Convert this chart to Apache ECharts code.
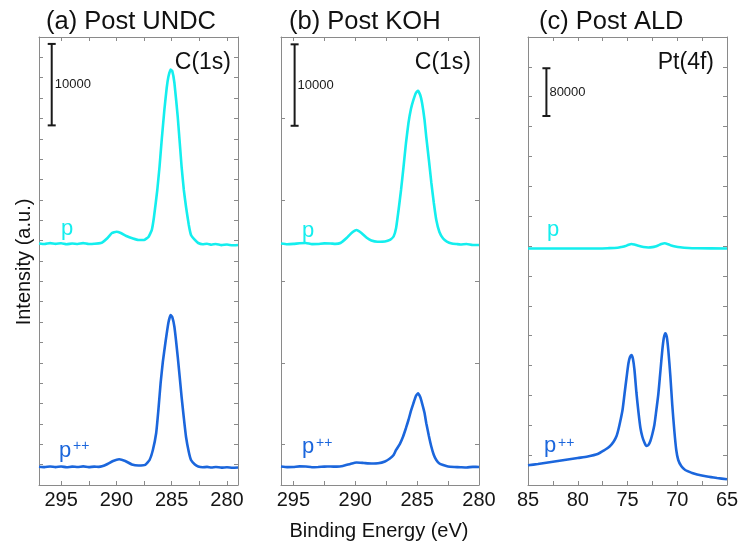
<!DOCTYPE html>
<html><head><meta charset="utf-8">
<script src="https://cdn.jsdelivr.net/npm/echarts@6/dist/echarts.min.js"></script>
<style>html,body{margin:0;padding:0;background:#fff}#c{width:741px;height:545px}</style>
</head><body><div id="c"></div>
<script>
const FONT = "'Liberation Sans', Arial, Helvetica, sans-serif";
const CYAN = '#14EEEE';
const BLUE = '#1B66DC';

// ---- text ----
const panelTitles = ['(a) Post UNDC', '(b) Post KOH', '(c) Post ALD'];
const peakLabels = ['C(1s)', 'C(1s)', 'Pt(4f)'];
const xAxisTitle = 'Binding Energy (eV)';
const yAxisTitle = 'Intensity (a.u.)';

// ---- ticks ----
const xTicksAB = [280, 282.5, 285, 287.5, 290, 292.5, 295];
const xLabelsAB = [280, 285, 290, 295];
const yTicksB = [5000, 15000, 25000, 35000, 45000];

// ---- scale bars [x, yLow, yHigh] and their labels ----
const barA = [[295.85, 44150, 54150]];
const barB = [[294.9, 44100, 54100]];
const barC = [[83.15, 617700, 697700]];
const barLabels = ['10000', '10000', '80000'];

// ---- panel (a) Post UNDC, C(1s): [binding energy eV, counts] ----
const aP = [[297,29650],[296.5,29580],[296,29700],[295.5,29600],[295,29680],[294.5,29560],[294,29640],[293.5,29590],[293,29700],[292.5,29580],[292,29620],[291.6,29660],[291.3,29760],[290.8,30320],[290.4,30940],[290.0,31100],[289.6,30940],[289.1,30570],[288.5,30260],[288.0,30080],[287.5,30080],[287.1,30450],[286.8,31300],[286.6,32900],[286.3,36220],[286.1,39040],[285.9,42360],[285.66,46040],[285.45,48740],[285.3,50090],[285.1,51010],[284.95,50830],[284.75,49350],[284.45,45180],[284.1,39040],[283.9,36220],[283.7,34130],[283.45,31920],[283.25,30690],[282.9,30080],[282.6,29710],[282.2,29560],[281.8,29620],[281.4,29500],[281,29590],[280.5,29450],[280,29520],[279.5,29430],[279,29470]];
const aPP = [[297,2250],[296.5,2190],[296,2280],[295.5,2200],[295,2270],[294.5,2180],[294,2260],[293.5,2210],[293,2290],[292.5,2200],[292,2250],[291.6,2230],[291.3,2290],[290.8,2580],[290.3,2950],[289.75,3160],[289.2,2950],[288.6,2520],[288.0,2390],[287.4,2460],[287.0,3070],[286.7,4300],[286.4,6380],[286.2,9210],[286.0,12520],[285.8,15100],[285.57,17430],[285.3,19890],[285.1,20870],[284.95,20630],[284.75,19400],[284.45,15720],[284.1,10800],[283.9,8230],[283.7,5890],[283.45,4050],[283.25,3070],[282.9,2520],[282.6,2270],[282.2,2180],[281.8,2220],[281.4,2140],[281,2210],[280.5,2130],[280,2170],[279.5,2120],[279,2150]];

// ---- panel (b) Post KOH, C(1s) ----
const bP = [[296,29650],[295.5,29560],[295,29600],[294.5,29680],[294,29710],[293.5,29570],[293,29590],[292.5,29660],[292,29650],[291.6,29600],[291.2,29710],[290.7,30320],[290.3,30940],[289.9,31310],[289.5,30940],[289.1,30390],[288.7,30020],[288.2,29870],[287.6,29890],[287.2,30080],[286.9,30510],[286.7,31550],[286.5,33760],[286.3,36220],[286.1,39040],[285.9,41990],[285.7,44440],[285.5,46160],[285.3,47270],[285.1,48130],[284.93,48410],[284.75,47880],[284.6,46900],[284.4,44810],[284.26,42720],[284.05,39900],[283.85,37080],[283.65,34620],[283.45,32530],[283.2,31060],[282.9,30260],[282.6,29890],[282.2,29650],[281.8,29580],[281.5,29530],[281,29590],[280.5,29470],[280,29470]];
const bPP = [[296,2270],[295.5,2200],[295,2210],[294.5,2290],[294,2270],[293.5,2180],[293,2210],[292.5,2260],[292,2270],[291.5,2250],[291,2330],[290.4,2580],[289.9,2760],[289.3,2700],[288.7,2640],[288.15,2660],[287.6,2890],[287.2,3250],[286.9,3680],[286.7,4300],[286.4,5030],[286.14,5930],[285.9,7000],[285.7,7980],[285.5,9090],[285.3,10030],[285.1,10930],[284.93,11260],[284.75,10800],[284.6,10030],[284.4,8840],[284.26,7580],[284.05,6020],[283.85,4700],[283.65,3680],[283.45,3070],[283.2,2640],[282.9,2460],[282.5,2270],[282,2210],[281.5,2180],[281,2150],[280.5,2230],[280,2210]];

// ---- panel (c) Post ALD, Pt(4f) ----
const cP = [[85,395900],[82,395900],[80,395900],[78,396000],[77,396400],[76,397100],[75.6,398400],[75.2,400100],[74.9,402200],[74.6,403500],[74.3,402500],[74.0,400900],[73.4,398400],[72.9,397600],[72.5,398200],[72.2,399300],[71.9,401200],[71.6,403300],[71.27,404600],[70.9,403000],[70.6,400900],[70.2,399300],[69.7,397900],[69.3,397300],[68,396300],[65,395900]];
const cPP = [[85,32980],[84,35160],[83,37670],[82,40180],[81,42690],[80,45200],[79,47710],[78,51900],[77.3,58590],[76.8,64450],[76.4,72490],[76.1,82030],[75.9,93750],[75.7,108820],[75.5,125560],[75.3,152340],[75.1,179130],[74.9,204240],[74.75,214290],[74.6,217630],[74.45,210940],[74.3,192520],[74.1,154020],[73.9,122210],[73.7,95420],[73.5,80360],[73.3,71150],[73.1,65290],[72.9,66960],[72.7,73660],[72.5,85380],[72.3,100450],[72.1,125560],[71.9,152340],[71.7,189170],[71.5,226000],[71.35,246090],[71.2,253960],[71.05,247770],[70.9,226000],[70.7,184150],[70.5,133930],[70.3,92080],[70.1,58590],[69.9,41850],[69.6,31810],[69.2,25110],[68.5,20090],[68,17580],[67,14230],[66,11720],[65,9540]];

// ---------------- layout ----------------
const grids = [
  {left: 39, top: 37, width: 199, height: 448},
  {left: 281, top: 37, width: 198, height: 448},
  {left: 528, top: 37, width: 199, height: 448}
];
const xRanges = [[279, 297], [280, 296], [65, 85]];
const yRanges = [[0, 55000], [0, 55000], [0, 750000]];
const AX = '#8a8a8a';

function xAxes(i) {
  const base = {
    gridIndex: i, type: 'value', min: xRanges[i][0], max: xRanges[i][1], inverse: true,
    axisLine: {show: true, onZero: false, lineStyle: {color: AX, width: 1}},
    splitLine: {show: false}
  };
  const tick = {show: true, inside: true, length: 4, lineStyle: {color: AX, width: 1}};
  const lab = {fontSize: 20, color: '#151515', fontFamily: FONT, margin: 5};
  if (i < 2) {
    tick.customValues = xTicksAB;
    lab.customValues = xLabelsAB;
  } else {
    base.interval = 2.5;
    lab.formatter = v => (v % 5 === 0 ? String(v) : '');
  }
  return [
    Object.assign({}, base, {position: 'bottom', axisTick: tick, axisLabel: lab}),
    Object.assign({}, base, {position: 'top', axisTick: tick, axisLabel: {show: false}})
  ];
}
function yAxes(i) {
  const base = {
    gridIndex: i, type: 'value', min: yRanges[i][0], max: yRanges[i][1],
    axisLine: {show: true, onZero: false, lineStyle: {color: AX, width: 1}},
    splitLine: {show: false}, axisLabel: {show: false}
  };
  const tick = {show: true, inside: true, length: 4, lineStyle: {color: AX, width: 1}};
  if (i === 0) base.interval = 2500;
  if (i === 1) { base.interval = 10000; tick.customValues = yTicksB; }
  if (i === 2) base.interval = 50000;
  return [
    Object.assign({}, base, {position: 'left', axisTick: tick}),
    Object.assign({}, base, {position: 'right', axisTick: tick})
  ];
}

const xAxis = [], yAxis = [];
for (let i = 0; i < 3; i++) { xAxis.push(...xAxes(i)); yAxis.push(...yAxes(i)); }

function lineSeries(data, i, color) {
  return {
    type: 'line', data: data, xAxisIndex: 2 * i, yAxisIndex: 2 * i,
    showSymbol: false, symbol: 'none', smooth: i === 2 ? 0.25 : 0.12,
    lineStyle: {color: color, width: 2.6}, itemStyle: {color: color},
    emphasis: {disabled: true}, silent: true, z: 3
  };
}
function barSeries(data, i) {
  return {
    type: 'custom', data: data, xAxisIndex: 2 * i, yAxisIndex: 2 * i,
    encode: {x: 0, y: [1, 2]}, silent: true, z: 4,
    renderItem: function (params, api) {
      const lo = api.coord([api.value(0), api.value(1)]);
      const hi = api.coord([api.value(0), api.value(2)]);
      const st = {stroke: '#1a1a1a', lineWidth: 2};
      return {type: 'group', children: [
        {type: 'line', shape: {x1: lo[0], y1: lo[1], x2: hi[0], y2: hi[1]}, style: st},
        {type: 'line', shape: {x1: lo[0] - 4, y1: lo[1], x2: lo[0] + 4, y2: lo[1]}, style: st},
        {type: 'line', shape: {x1: hi[0] - 4, y1: hi[1], x2: hi[0] + 4, y2: hi[1]}, style: st},
        {type: 'text', style: {text: barLabels[i], x: lo[0] + 3, y: (lo[1] + hi[1]) / 2,
          fontSize: 13, fontFamily: FONT, fill: '#1a1a1a', verticalAlign: 'middle', align: 'left'}}
      ]};
    }
  };
}

const series = [
  lineSeries(aP, 0, CYAN), lineSeries(aPP, 0, BLUE), barSeries(barA, 0),
  lineSeries(bP, 1, CYAN), lineSeries(bPP, 1, BLUE), barSeries(barB, 1),
  lineSeries(cP, 2, CYAN), lineSeries(cPP, 2, BLUE), barSeries(barC, 2)
];

function txt(text, x, y, size, color, opts) {
  return Object.assign({type: 'text', x: x, y: y, silent: true, z: 10,
    style: Object.assign({text: text, fontSize: size, fontFamily: FONT, fill: color,
      align: 'left', verticalAlign: 'middle'}, (opts && opts.style) || {})},
    (opts && opts.el) || {});
}

const graphic = [
  txt(panelTitles[0], 46, 22, 25.5, '#111'),
  txt(panelTitles[1], 289, 22, 25.5, '#111'),
  txt(panelTitles[2], 539, 22, 25.5, '#111'),
  txt(peakLabels[0], 231, 63, 23, '#111', {style: {align: 'right'}}),
  txt(peakLabels[1], 471, 63, 23, '#111', {style: {align: 'right'}}),
  txt(peakLabels[2], 714, 63, 23, '#111', {style: {align: 'right'}}),
  // p labels
  txt('p', 61, 229, 22, CYAN),
  txt('p', 302, 231, 22, CYAN),
  txt('p', 547, 230, 22, CYAN),
  txt('p', 59, 451, 22, BLUE),
  txt('++', 73, 446, 14, BLUE),
  txt('p', 302, 447, 22, BLUE),
  txt('++', 316, 443, 14, BLUE),
  txt('p', 544, 446, 22, BLUE),
  txt('++', 558, 443, 14, BLUE),
  txt(xAxisTitle, 379, 531, 20, '#111', {style: {align: 'center'}}),
  txt(yAxisTitle, 24, 262, 20, '#111', {style: {align: 'center'}, el: {rotation: Math.PI / 2}})
];

const chart = echarts.init(document.getElementById('c'), null, {renderer: 'canvas'});
chart.setOption({
  animation: false,
  backgroundColor: '#fff',
  grid: grids.map(g => Object.assign({outerBoundsMode: 'none', containLabel: false}, g)),
  xAxis: xAxis, yAxis: yAxis, series: series, graphic: graphic
});
</script></body></html>
